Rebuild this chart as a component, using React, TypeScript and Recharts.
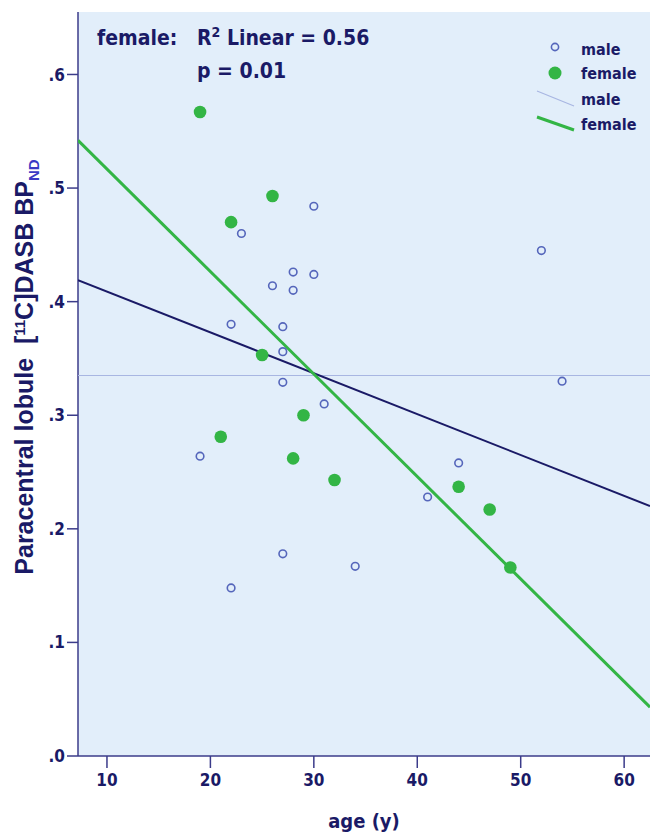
import {
	ScatterChart,
	Scatter,
	XAxis,
	YAxis,
	CartesianGrid,
	Customized,
	Label,
} from "recharts"

const maleAge = [23, 30, 26, 28, 30, 28, 22, 27, 27, 27, 31, 19, 22, 27, 34, 41, 44, 52, 54]
const maleBP = [0.46, 0.484, 0.414, 0.426, 0.424, 0.41, 0.38, 0.378, 0.356, 0.329, 0.31, 0.264, 0.148, 0.178, 0.167, 0.228, 0.258, 0.445, 0.33]
const femaleAge = [19, 26, 22, 25, 21, 29, 28, 32, 44, 47, 49]
const femaleBP = [0.567, 0.493, 0.47, 0.353, 0.281, 0.3, 0.262, 0.243, 0.237, 0.217, 0.166]

// fit lines, read at the left and right edge of the plot
const fitAge = [7.2, 62.5]
const maleFitBP = [0.335, 0.335]
const femaleFitBP = [0.542, 0.043]
const totalFitBP = [0.419, 0.22]

const xTicks = [10, 20, 30, 40, 50, 60]
const yTicks = [0, 0.1, 0.2, 0.3, 0.4, 0.5, 0.6]

const NAVY = "#1a1a66"
const AXIS = "#3b3b8a"
const GREEN = "#33b545"
const OPEN = "#5566bb"
const FONT = "'DejaVu Sans Condensed', 'DejaVu Sans', sans-serif"

const pts = (xs: number[], ys: number[]) => xs.map((x, i) => ({ age: x, bp: ys[i] }))

const maleData = pts(maleAge, maleBP)
const femaleData = pts(femaleAge, femaleBP)
const maleFit = pts(fitAge, maleFitBP)
const femaleFit = pts(fitAge, femaleFitBP)
const totalFit = pts(fitAge, totalFitBP)

const OpenDot = (p: any) => (
	<circle cx={p.cx} cy={p.cy} r={3.8} fill="none" stroke={OPEN} strokeWidth={1.6} />
)
const FilledDot = (p: any) => <circle cx={p.cx} cy={p.cy} r={6.3} fill={GREEN} />
const NoDot = () => <g />

const Overlay = () => (
	<g fontFamily={FONT} fontWeight="bold" fill={NAVY}>
		<text x={97} y={45} fontSize={21}>female:</text>
		<text x={197} y={45} fontSize={21}>
			R<tspan dy={-8} fontSize={14}>2</tspan>
			<tspan dy={8}> Linear = 0.56</tspan>
		</text>
		<text x={197} y={78} fontSize={21}>p = 0.01</text>

		<circle cx={555} cy={47} r={3.6} fill="none" stroke={OPEN} strokeWidth={1.6} />
		<text x={581} y={55} fontSize={16}>male</text>
		<circle cx={555} cy={73} r={6.5} fill={GREEN} />
		<text x={581} y={79} fontSize={16}>female</text>
		<line x1={537} y1={91} x2={574} y2={106} stroke="#a8b6e2" strokeWidth={1.2} />
		<text x={581} y={105} fontSize={16}>male</text>
		<line x1={537} y1={117} x2={574} y2={130} stroke={GREEN} strokeWidth={3} />
		<text x={581} y={130} fontSize={16}>female</text>
	</g>
)

const YTitle = () => (
	<text
		transform="translate(33, 367) rotate(-90)"
		textAnchor="middle"
		fontFamily="'Liberation Sans', Arial, sans-serif"
		fontWeight="bold"
		fontSize={25}
		fill={NAVY}
	>
		Paracentral lobule{"\u00a0\u00a0"}[<tspan dy={-8} fontSize={15}>11</tspan>
		<tspan dy={8}>C]DASB BP</tspan>
		<tspan dy={6} fontSize={15} fill="#3a3ac4">ND</tspan>
	</text>
)

export default function App() {
	return (
		<div style={{ position: "absolute", left: 0, top: 0, width: 650, height: 836, background: "#fff" }}>
			<ScatterChart width={650} height={836} margin={{ top: 12, right: 0, bottom: 0, left: 0 }}>
				<CartesianGrid fill="#e2eefa" horizontal={false} vertical={false} />
				<XAxis
					type="number"
					dataKey="age"
					domain={[7.2, 62.5]}
					ticks={xTicks}
					allowDataOverflow
					height={80}
					stroke={AXIS}
					strokeWidth={1.5}
					tickSize={12}
					tickMargin={6}
					tick={{ fill: NAVY, fontFamily: FONT, fontWeight: "bold", fontSize: 17 }}
				>
					<Label
						value="age (y)"
						position="insideBottom"
						offset={8}
						fill={NAVY}
						fontFamily={FONT}
						fontWeight="bold"
						fontSize={20}
					/>
				</XAxis>
				<YAxis
					type="number"
					dataKey="bp"
					domain={[0, 0.655]}
					ticks={yTicks}
					allowDataOverflow
					width={78}
					stroke={AXIS}
					strokeWidth={1.5}
					tickSize={11}
					tickMargin={2}
					tickFormatter={(v: number) => v.toFixed(1).replace(/^0/, "")}
					tick={{ fill: NAVY, fontFamily: FONT, fontWeight: "bold", fontSize: 17 }}
				/>
				<Scatter data={maleFit} line={{ stroke: "#a8b6e2", strokeWidth: 1.2 }} shape={NoDot} isAnimationActive={false} />
				<Scatter data={totalFit} line={{ stroke: NAVY, strokeWidth: 2 }} shape={NoDot} isAnimationActive={false} />
				<Scatter data={femaleFit} line={{ stroke: GREEN, strokeWidth: 3 }} shape={NoDot} isAnimationActive={false} />
				<Scatter data={maleData} shape={OpenDot} isAnimationActive={false} />
				<Scatter data={femaleData} shape={FilledDot} isAnimationActive={false} />
				<Customized component={<Overlay />} />
				<Customized component={<YTitle />} />
			</ScatterChart>
		</div>
	)
}
